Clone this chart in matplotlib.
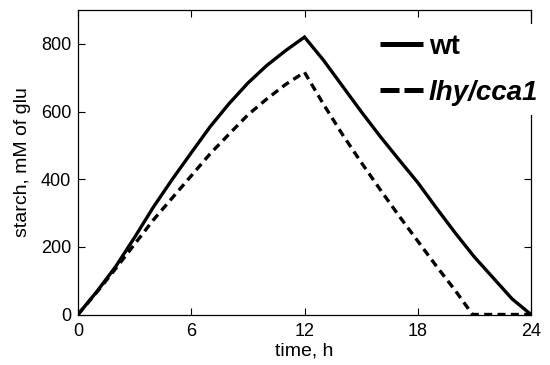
import matplotlib
matplotlib.use("Agg")
import matplotlib.pyplot as plt
from matplotlib.lines import Line2D

plt.rcParams['font.family'] = ['Liberation Sans', 'DejaVu Sans']

# time points (h)
t_wt = [0, 1, 2, 3, 4, 5, 6, 7, 8, 9, 10, 11, 12,
        13, 14, 15, 16, 17, 18, 19, 20, 21, 22, 23, 24]
wt = [0, 68, 142, 228, 318, 400, 478, 555, 623, 684, 736, 780, 820,
      752, 676, 600, 527, 458, 390, 314, 240, 170, 108, 46, 0]

t_mut = [0, 1, 2, 3, 4, 5, 6, 7, 8, 9, 10, 11, 12,
         13, 14, 15, 16, 17, 18, 19, 20, 20.9, 22, 23, 24]
mut = [0, 66, 136, 208, 280, 345, 410, 475, 533, 590, 637, 680, 716,
       622, 533, 450, 370, 292, 217, 142, 70, 0, 0, 0, 0]

labels = ['wt', 'lhy/cca1']
xticks = [0, 6, 12, 18, 24]
yticks = [0, 200, 400, 600, 800]

fig = plt.figure(figsize=(5.5, 3.65), dpi=100)
ax = fig.add_axes([78/550, (365-314.5)/365, (531-78)/550, (314.5-10)/365])

ax.plot(t_wt, wt, color='black', lw=2.4, solid_joinstyle='miter')
ax.plot(t_mut, mut, color='black', lw=2.4, linestyle=(0, (2.4, 1.6)))

ax.set_xlim(0, 24)
ax.set_ylim(0, 900)
ax.set_xticks(xticks)
ax.set_yticks(yticks)
ax.tick_params(direction='in', length=5, width=0.8, top=True, right=True,
               labelsize=13, pad=5)
ax.tick_params(axis='x', pad=6)
for s in ax.spines.values():
    s.set_linewidth(0.9)

ax.set_xlabel('time, h', fontsize=14, labelpad=2)
ax.set_ylabel('starch, mM of glu', fontsize=14, labelpad=7)

handles = [
    Line2D([], [], color='black', lw=3.6, solid_capstyle='butt'),
    Line2D([], [], color='black', lw=3.6, linestyle=(0, (3.8, 1.0)),
           dash_capstyle='butt'),
]
leg = ax.legend(handles, labels, loc='upper left',
                bbox_to_anchor=(370/550, 1 - 24/365),
                bbox_transform=fig.transFigure, frameon=True, fancybox=False,
                edgecolor='white', facecolor='white', framealpha=1,
                fontsize=20, handlelength=1.55, handletextpad=0.22,
                labelspacing=0.72, borderpad=0.35, borderaxespad=0)
leg.get_frame().set_linewidth(0)
for i, txt in enumerate(leg.get_texts()):
    txt.set_fontweight('bold')
    if i == 1:
        txt.set_fontstyle('italic')

fig.savefig('out.png', dpi=100)
